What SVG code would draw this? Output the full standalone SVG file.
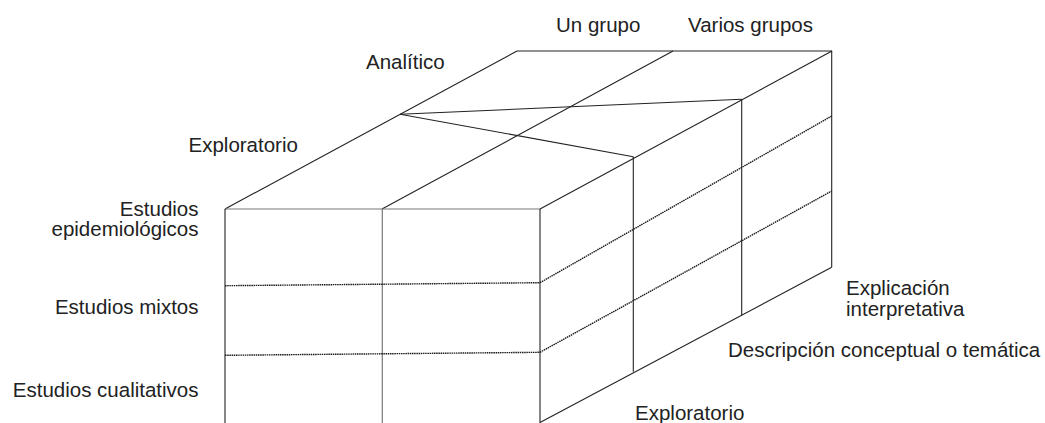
<svg xmlns="http://www.w3.org/2000/svg" width="1045" height="423" viewBox="0 0 1045 423">
<style>
.ln{stroke:#222;stroke-width:1.1;fill:none}
.gr{stroke:#777;stroke-width:1.2;fill:none}
.dt{stroke:#1a1a1a;stroke-width:1.4;fill:none;stroke-dasharray:1.5 0.7}
text{font-family:"Liberation Sans",Arial,sans-serif;font-size:20.5px;fill:#222}
.r{text-anchor:end}
</style>
<rect width="1045" height="423" fill="#fff"/>
<g id="cube">
<g id="top-face">
<line class="ln" x1="517" y1="51" x2="832" y2="51"/>
<line class="ln" x1="225" y1="209" x2="517" y2="51"/>
<line class="ln" x1="382" y1="209" x2="673" y2="51"/>
<line class="ln" x1="540" y1="209" x2="832" y2="51"/>
<line class="gr" x1="225" y1="209" x2="540" y2="209"/>
<line class="ln" x1="400" y1="114.3" x2="741.7" y2="99.3"/>
<line class="ln" x1="400" y1="114.3" x2="633.3" y2="156.7"/>
</g>
<g id="front-face">
<line class="ln" x1="225" y1="209" x2="225" y2="424"/>
<line class="ln" x1="540" y1="209" x2="540" y2="424"/>
<line class="gr" x1="382.3" y1="209" x2="382.3" y2="424"/>
<line class="dt" x1="225" y1="285.7" x2="540" y2="282.7"/>
<line class="dt" x1="225" y1="355.3" x2="540" y2="352.3"/>
</g>
<g id="right-face">
<line class="ln" x1="633.3" y1="156.7" x2="633.3" y2="371.7"/>
<line class="ln" x1="741.7" y1="99.3" x2="741.7" y2="315"/>
<line class="ln" x1="831.7" y1="51" x2="831.7" y2="267.3"/>
<line class="ln" x1="540" y1="422.5" x2="831.7" y2="267.3"/>
<line class="dt" x1="540" y1="282.7" x2="831.7" y2="116"/>
<line class="dt" x1="540" y1="352.3" x2="831.7" y2="191"/>
</g>
</g>
<g id="labels">
<text x="556" y="31.5">Un grupo</text>
<text x="688" y="31.5">Varios grupos</text>
<text x="366" y="68.5">Analítico</text>
<text x="188.5" y="151.5">Exploratorio</text>
<text class="r" x="198.5" y="215.5">Estudios</text>
<text class="r" x="198.5" y="236">epidemiológicos</text>
<text class="r" x="198.5" y="314">Estudios mixtos</text>
<text class="r" x="198.5" y="396.5">Estudios cualitativos</text>
<text x="846" y="294.5">Explicación</text>
<text x="846" y="315.5">interpretativa</text>
<text x="728" y="357">Descripción conceptual o temática</text>
<text x="635" y="420">Exploratorio</text>
</g>
</svg>
